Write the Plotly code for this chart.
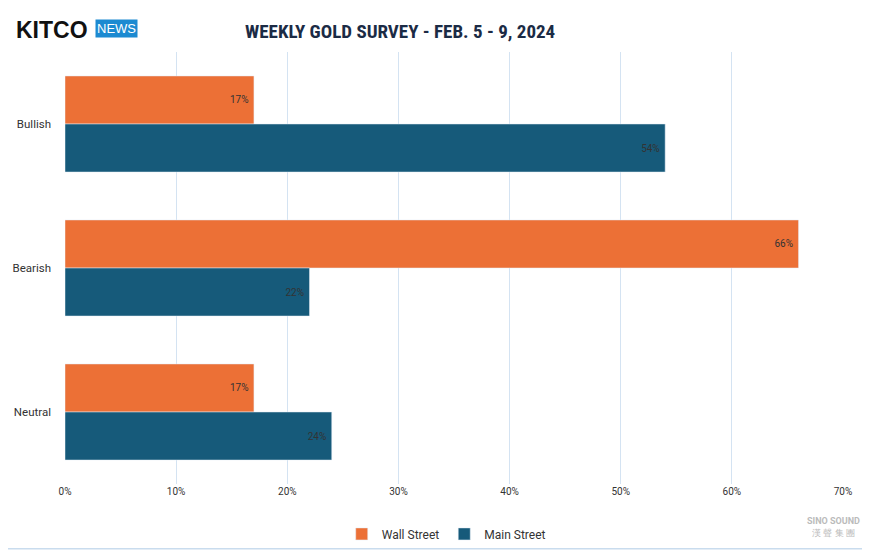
import plotly.graph_objects as go

categories = ["Bullish", "Bearish", "Neutral"]
wall_street = [17, 66, 17]
main_street = [54, 22, 24]
tick_vals = [0, 10, 20, 30, 40, 50, 60, 70]
tick_text = ["0%", "10%", "20%", "30%", "40%", "50%", "60%", "70%"]

fig = go.Figure()
fig.add_bar(y=categories, x=wall_street, orientation="h", name="Wall Street",
            marker=dict(color="#EC7036"), text=[f"{v}% " for v in wall_street],
            textposition="inside", insidetextanchor="end",
            textfont=dict(color="#333333", size=10))
fig.add_bar(y=categories, x=main_street, orientation="h", name="Main Street",
            marker=dict(color="#165A7A"), text=[f"{v}% " for v in main_street],
            textposition="inside", insidetextanchor="end",
            textfont=dict(color="#333333", size=10))

fig.update_layout(
    width=870, height=551, barmode="group", bargap=0.333, bargroupgap=0,
    margin=dict(l=57, r=35, t=44, b=75, autoexpand=False),
    paper_bgcolor="white", plot_bgcolor="white",
    font=dict(family="Roboto, Arial, sans-serif", color="#333333", size=11),
    xaxis=dict(range=[0, 70], tickvals=tick_vals, ticktext=tick_text, automargin=False,
               showgrid=True, gridcolor="#D4E3F2", gridwidth=1, zeroline=False,
               tickfont=dict(size=10, color="#333333")),
    yaxis=dict(autorange="reversed", showgrid=False, ticks="", ticklen=0, automargin=False,
               tickfont=dict(size=11.5, color="#333333"), ticklabelstandoff=13,
               showline=False),
    legend=dict(orientation="h", x=0.49, xanchor="center", y=-0.082, yanchor="top",
                font=dict(size=12, color="#333333"), itemwidth=30,
                traceorder="normal"),
    showlegend=True,
)
fig.add_shape(type="rect", xref="paper", yref="paper", x0=-0.0823, x1=1.0334,
              y0=-0.150, y1=1.118, line=dict(color="#C9DCEE", width=1.5))
fig.add_annotation(xref="paper", yref="paper", x=0.43, y=1.0486, xanchor="center",
                   yanchor="middle", showarrow=False,
                   text="<b>WEEKLY GOLD SURVEY - FEB. 5 - 9, 2024</b>",
                   font=dict(size=19, color="#1B2B45", family="Roboto Condensed, Roboto, Arial"))
fig.add_annotation(xref="paper", yref="paper", x=-0.066, y=1.05, xanchor="left",
                   yanchor="middle", showarrow=False, text="<b>KITCO</b>",
                   font=dict(size=23, color="#111111", family="Arial"))
fig.add_annotation(xref="paper", yref="paper", x=0.039, y=1.055, xanchor="left",
                   yanchor="middle", showarrow=False, text="NEWS", bgcolor="#1C8AD1",
                   font=dict(size=13, color="white", family="Arial"), borderpad=1)
fig.add_annotation(xref="paper", yref="paper", x=1.025, y=-0.0995, xanchor="right",
                   yanchor="middle", showarrow=False, text="<b>SINO SOUND</b><br>漢 聲 集 團",
                   font=dict(size=9, color="#BBBBBB"))
fig.write_html("out.html")
